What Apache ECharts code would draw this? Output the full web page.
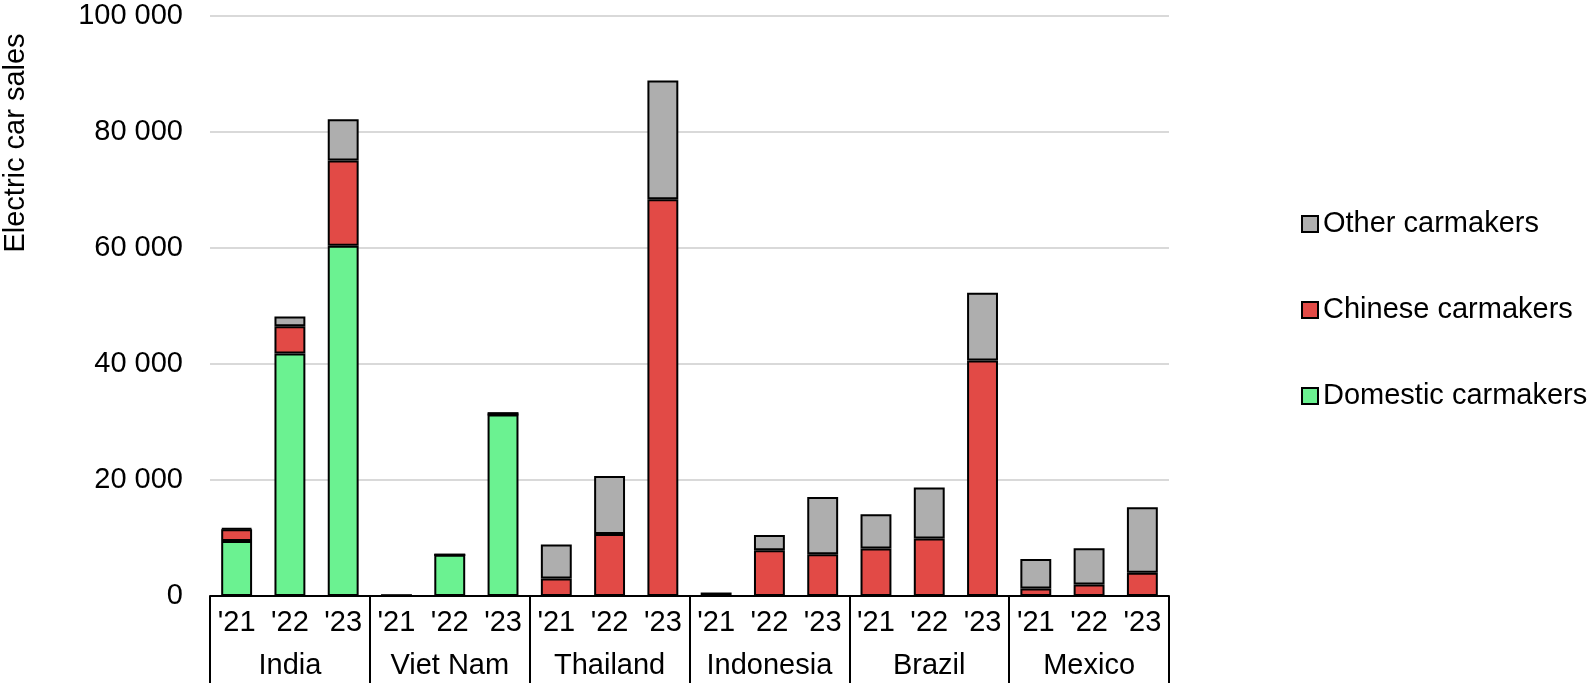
<!DOCTYPE html>
<html>
<head>
<meta charset="utf-8">
<script src="https://cdn.jsdelivr.net/npm/echarts@6/dist/echarts.min.js"></script>
<style>
  html, body { margin: 0; padding: 0; background: #fff; }
  #chart { width: 1591px; height: 683px; }
</style>
</head>
<body>
<div id="chart"></div>
<script>
// Electric car sales by carmaker origin, emerging markets 2021-2023
const countries = ['India', 'Viet Nam', 'Thailand', 'Indonesia', 'Brazil', 'Mexico'];
const years = ["'21", "'22", "'23"];
const domestic = [9500, 41800, 60400, 100, 7100, 31300, 0, 0, 0, 0, 0, 0, 0, 0, 0, 0, 0, 0];
const chinese  = [2000, 4700, 14700, 0, 0, 0, 3000, 10700, 68400, 0, 7900, 7200, 8200, 9900, 40600, 1300, 2000, 4000];
const other    = [200, 1700, 7100, 0, 0, 400, 5900, 10000, 20500, 600, 2600, 9850, 5900, 8800, 11700, 5100, 6250, 11300];
const yTicks = [0, 20000, 40000, 60000, 80000, 100000];

const categories = [];
countries.forEach(c => years.forEach(y => categories.push(c + ' ' + y)));

const FONT = '"Liberation Sans", Arial, sans-serif';
const FS = 29;

const chart = echarts.init(document.getElementById('chart'), null, { renderer: 'canvas' });

function seg(name, data, color) {
  return {
    name, type: 'bar', stack: 'sales', data,
    barCategoryGap: '42%',
    itemStyle: { color, borderColor: '#000', borderWidth: 2 },
    emphasis: { disabled: true }
  };
}

chart.setOption({
  animation: false,
  textStyle: { fontFamily: FONT },
  grid: { left: 210, right: 422, top: 16, bottom: 87 },
  legend: {
    orient: 'vertical',
    left: 1296, top: 204,
    icon: 'rect',
    itemWidth: 16, itemHeight: 16, itemGap: 56,
    data: ['Other carmakers', 'Chinese carmakers', 'Domestic carmakers'],
    textStyle: { fontFamily: FONT, fontSize: FS, color: '#000', lineHeight: 30 },
    selectedMode: false
  },
  graphic: [{
    type: 'text', x: 16, y: 143, rotation: Math.PI / 2,
    style: {
      text: 'Electric car sales', fontFamily: FONT, fontSize: FS, fill: '#000',
      textAlign: 'center', textVerticalAlign: 'middle'
    }
  }],
  xAxis: [{
    type: 'category', data: categories, position: 'bottom',
    axisLine: { onZero: false, lineStyle: { color: '#000', width: 2 } },
    axisTick: { show: false },
    axisLabel: {
      interval: 0, margin: 12, fontFamily: FONT, fontSize: FS, color: '#000',
      formatter: v => v.split(' ').pop()
    }
  }, {
    type: 'category', data: countries, position: 'bottom',
    axisLine: { show: false, onZero: false },
    axisTick: { show: true, length: 87, lineStyle: { color: '#000', width: 2 } },
    axisLabel: { interval: 0, margin: 55, fontFamily: FONT, fontSize: FS, color: '#000' },
    splitLine: { show: false }
  }],
  yAxis: {
    type: 'value', min: yTicks[0], max: yTicks[yTicks.length - 1], interval: yTicks[1] - yTicks[0],
    axisLine: { show: false }, axisTick: { show: false },
    splitLine: { lineStyle: { color: '#D9D9D9', width: 2 } },
    axisLabel: {
      margin: 27, fontFamily: FONT, fontSize: FS, color: '#000',
      formatter: v => String(v).replace(/\B(?=(\d{3})+(?!\d))/g, ' ')
    }
  },
  series: [
    seg('Domestic carmakers', domestic, '#6BF291'),
    seg('Chinese carmakers', chinese, '#E24A46'),
    seg('Other carmakers', other, '#AEAEAE')
  ]
});
</script>
</body>
</html>
